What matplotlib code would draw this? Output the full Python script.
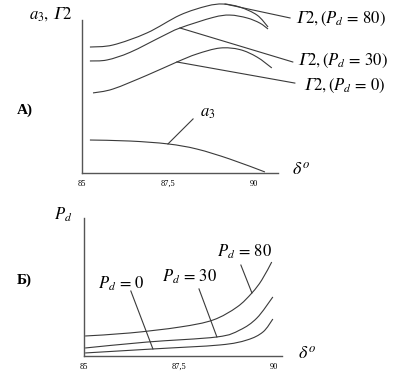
import matplotlib
matplotlib.use("Agg")
import matplotlib.pyplot as plt
from matplotlib.path import Path
from matplotlib.patches import PathPatch

plt.rcParams["font.family"] = ["Liberation Serif", "DejaVu Serif"]
plt.rcParams["mathtext.fontset"] = "stix"

W, H = 415, 385

# Panel A: Γ2 and a3 versus δ (schematic, arbitrary units)
g80_x = [85.23, 85.90, 86.89, 87.85, 88.63, 89.10, 89.59, 90.09, 90.41]
g80_y = [0.741, 0.753, 0.824, 0.929, 0.982, 0.994, 0.976, 0.929, 0.859]
g30_x = [85.23, 85.73, 86.40, 87.35, 87.85, 88.81, 89.30, 89.80, 90.17, 90.41]
g30_y = [0.659, 0.665, 0.710, 0.806, 0.853, 0.915, 0.929, 0.912, 0.882, 0.847]
g0_x = [85.32, 85.90, 86.89, 87.76, 88.34, 89.01, 89.59, 90.09, 90.52]
g0_y = [0.471, 0.494, 0.575, 0.653, 0.700, 0.735, 0.726, 0.682, 0.618]
a3_x = [85.23, 86.40, 87.50, 88.34, 89.30, 90.32]
a3_y = [0.194, 0.188, 0.171, 0.141, 0.082, 0.006]

# Panel Б: Pd versus δ
p80_x = [85.03, 86.21, 87.52, 88.39, 89.02, 89.41, 89.67, 89.93]
p80_y = [0.145, 0.167, 0.210, 0.261, 0.355, 0.457, 0.551, 0.681]
p30_x = [85.03, 86.65, 88.49, 89.09, 89.54, 89.96]
p30_y = [0.058, 0.101, 0.138, 0.188, 0.275, 0.428]
p0_x = [85.03, 86.81, 88.57, 89.28, 89.70, 89.96]
p0_y = [0.022, 0.051, 0.080, 0.116, 0.174, 0.268]

ticks = [85, 87.5, 90]
tick_labels = ["85", "87,5", "90"]

line_c = "#3a3a3a"
axis_c = "#555555"


def px_box(left, right, bottom, top):
    return [left / W, 1 - bottom / H, (right - left) / W, (bottom - top) / H]


def ftext(x, y, s, size=11, **kw):
    fig.text(x / W, 1 - y / H, s, fontsize=size, va="center", ha="left", **kw)


def smooth_curve(ax, xs, ys):
    # Catmull-Rom style bezier through the read points
    pts = list(zip(xs, ys))
    verts = [pts[0]]
    codes = [Path.MOVETO]
    n = len(pts)
    for i in range(n - 1):
        p0 = pts[max(i - 1, 0)]
        p1 = pts[i]
        p2 = pts[i + 1]
        p3 = pts[min(i + 2, n - 1)]
        c1 = (p1[0] + (p2[0] - p0[0]) / 6, p1[1] + (p2[1] - p0[1]) / 6)
        c2 = (p2[0] - (p3[0] - p1[0]) / 6, p2[1] - (p3[1] - p1[1]) / 6)
        verts += [c1, c2, p2]
        codes += [Path.CURVE4] * 3
    ax.add_patch(PathPatch(Path(verts, codes), fill=False, edgecolor=line_c,
                           lw=0.8, clip_on=False))


fig = plt.figure(figsize=(W / 100, H / 100), dpi=100)

# ---- panel A ----
ax1 = fig.add_axes(px_box(82, 278, 173, 3))
ax1.set_xlim(85, 90.7)
ax1.set_ylim(0, 1.0)
for xs, ys in [(g80_x, g80_y), (g30_x, g30_y), (g0_x, g0_y), (a3_x, a3_y)]:
    smooth_curve(ax1, xs, ys)

# leader lines
for (x0, y0), (x1, y1) in [((89.16, 0.994), (91.05, 0.912)),
                           ((87.85, 0.853), (91.13, 0.653)),
                           ((87.76, 0.653), (91.19, 0.529)),
                           ((87.50, 0.171), (88.23, 0.318))]:
    ax1.plot([x0, x1], [y0, y1], color=line_c, lw=0.8, clip_on=False)

# ---- panel Б ----
ax2 = fig.add_axes(px_box(84, 282, 356, 218))
ax2.set_xlim(85, 90.2)
ax2.set_ylim(0, 1.0)
for xs, ys in [(p80_x, p80_y), (p30_x, p30_y), (p0_x, p0_y)]:
    smooth_curve(ax2, xs, ys)
for (x0, y0), (x1, y1) in [((89.41, 0.457), (89.12, 0.659)),
                           ((88.49, 0.138), (88.02, 0.486)),
                           ((86.81, 0.051), (86.23, 0.471))]:
    ax2.plot([x0, x1], [y0, y1], color=line_c, lw=0.8, clip_on=False)

for ax, top in [(ax1, 0.9), (ax2, 1.0)]:
    ax.spines["top"].set_visible(False)
    ax.spines["right"].set_visible(False)
    for s in ("left", "bottom"):
        ax.spines[s].set_color(axis_c)
        ax.spines[s].set_linewidth(1.0)
    ax.spines["left"].set_bounds(0, top)
    ax.set_yticks([])
    ax.set_xticks(ticks)
    ax.set_xticklabels(tick_labels, fontsize=6)
    ax.tick_params(axis="x", length=0, pad=5)
    ax.patch.set_alpha(0)

G = "\U0001D6E4"

# texts, panel A
ftext(29, 14, r"$a_3,\,$" + "$" + G + "2$", 12)
ftext(17, 110, "A)", 11, fontweight="bold")
ftext(292, 170, r"$\delta^o$", 13)
ftext(200, 113, r"$a_3$", 12)
ftext(295, 19, "$" + G + r"2,(P_d\,=\,80)$", 12)
ftext(297, 61, "$" + G + r"2,(P_d\,=\,30)$", 12)
ftext(303, 86, "$" + G + r"2,(P_d\,=\,0)$", 12)

# texts, panel Б
ftext(54, 215, r"$P_d$", 12)
ftext(17, 280, "Б)", 11, fontweight="bold")
ftext(298, 354, r"$\delta^o$", 13)
ftext(217, 252, r"$P_d\,=\,80$", 12)
ftext(162, 277, r"$P_d\,=\,30$", 12)
ftext(98, 284, r"$P_d\,=\,0$", 12)

fig.savefig("out.png", dpi=100)
